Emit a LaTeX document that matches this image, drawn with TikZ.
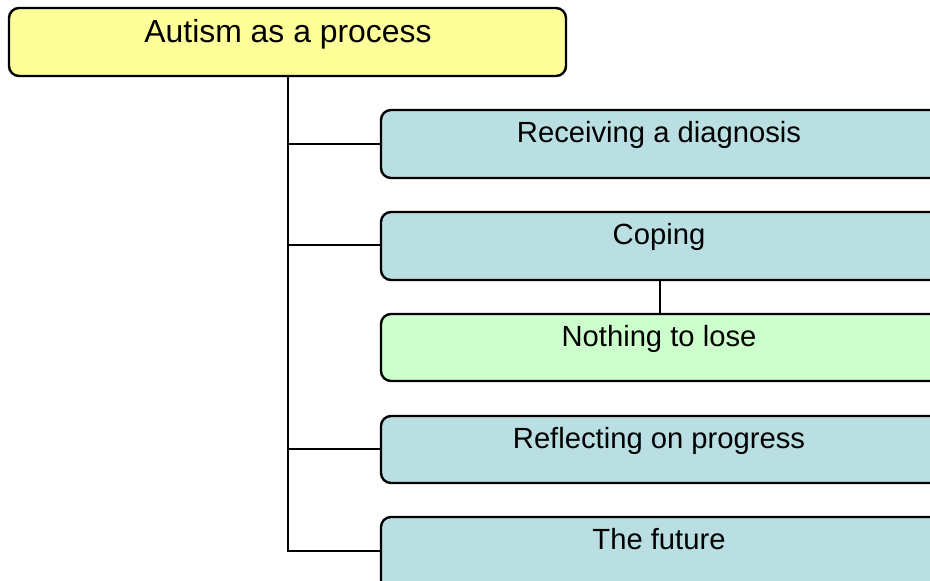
\documentclass[tikz,border=0pt]{standalone}
\usepackage{fontspec}
\setmainfont{Liberation Sans}
\definecolor{rootfill}{HTML}{FFFF99}
\definecolor{bluefill}{HTML}{B9DFE3}
\definecolor{greenfill}{HTML}{CCFFCC}
\begin{document}
\begin{tikzpicture}[x=1pt,y=-1pt,
  box/.style={draw=black,line width=2.4pt,rounded corners=10pt},
  lbl/.style={font=\fontsize{29.2}{33}\selectfont,inner sep=0pt,anchor=base},
  rootlbl/.style={font=\fontsize{31.9}{36}\selectfont,inner sep=0pt,anchor=base},
  conn/.style={draw=black,line width=2.4pt}]
\useasboundingbox (0,0) rectangle (930,581);
\clip (0,0) rectangle (930,581);
% root
\draw[box,fill=rootfill] (9,8) rectangle (566,76);
\node[rootlbl] (root) at (288,42) {Autism as a process};
\coordinate (rb) at (288,76);
% children boxes
\draw[box,fill=bluefill] (381,110) rectangle (945,178);
\node[lbl] (c1) at (659,142) {Receiving a diagnosis};
\draw[box,fill=bluefill] (381,212) rectangle (945,280);
\node[lbl] (c2) at (659,244) {Coping};
\draw[box,fill=greenfill] (381,314) rectangle (945,381);
\node[lbl] (c3) at (659,346) {Nothing to lose};
\draw[box,fill=bluefill] (381,416) rectangle (945,483);
\node[lbl] (c4) at (659,448) {Reflecting on progress};
\draw[box,fill=bluefill] (381,517) rectangle (945,600);
\node[lbl] (c5) at (659,549) {The future};
% connector anchors
\coordinate (t1) at (288,144); \coordinate (l1) at (381,144);
\coordinate (t2) at (288,245); \coordinate (l2) at (381,245);
\coordinate (t4) at (288,449); \coordinate (l4) at (381,449);
\coordinate (t5) at (288,551); \coordinate (l5) at (381,551);
\coordinate (cb) at (660,280); \coordinate (nt) at (660,314);
\draw[conn] (rb) -- (t5) -- (l5);
\draw[conn] (t1) -- (l1);
\draw[conn] (t2) -- (l2);
\draw[conn] (t4) -- (l4);
\draw[conn] (cb) -- (nt);
\end{tikzpicture}
\end{document}
